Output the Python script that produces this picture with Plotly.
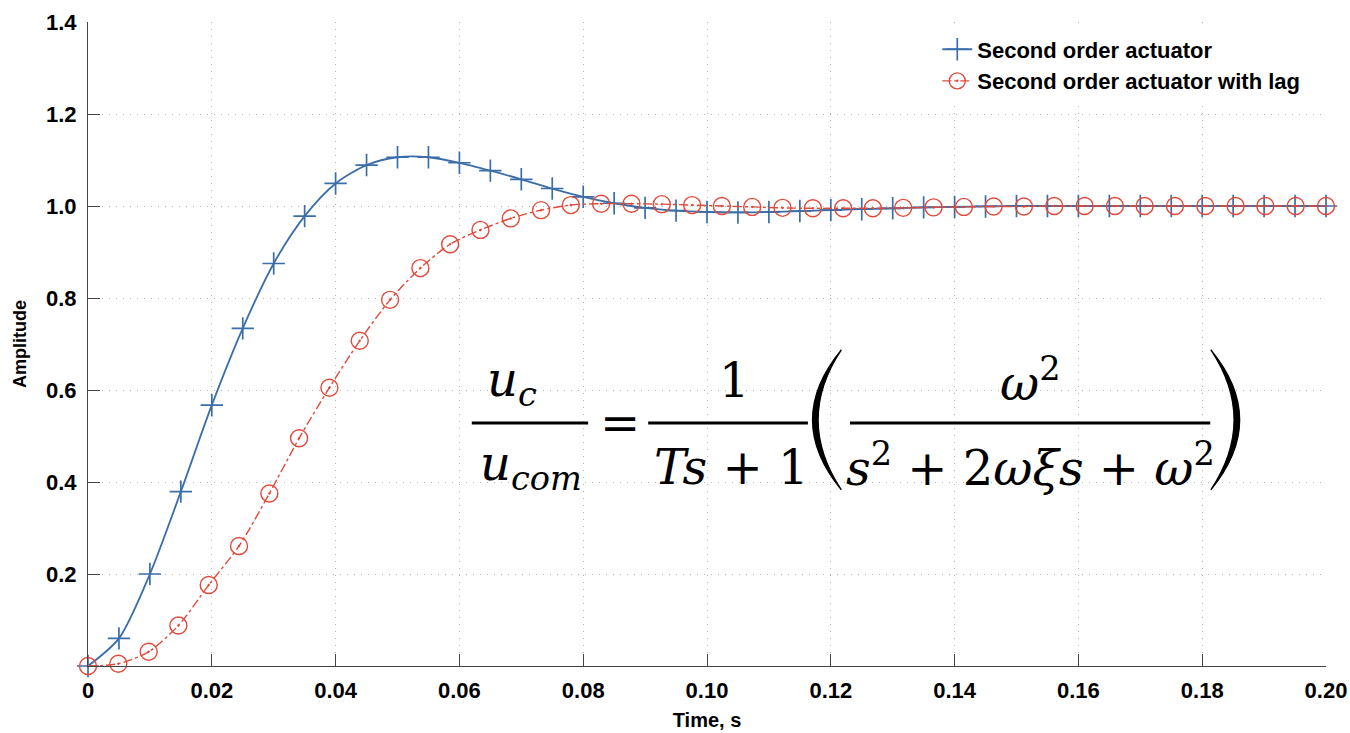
import plotly.graph_objects as go

# ---- data ----
t_blue = [0.000, 0.005, 0.010, 0.015, 0.020, 0.025, 0.030, 0.035, 0.040, 0.045,
          0.050, 0.055, 0.060, 0.065, 0.070, 0.075, 0.080, 0.085, 0.090, 0.095,
          0.100, 0.105, 0.110, 0.115, 0.120, 0.125, 0.130, 0.135, 0.140, 0.145,
          0.150, 0.155, 0.160, 0.165, 0.170, 0.175, 0.180, 0.185, 0.190, 0.195, 0.200]
y_blue = [0.000, 0.060, 0.200, 0.379, 0.567, 0.734, 0.875, 0.978, 1.049, 1.089,
          1.106, 1.106, 1.094, 1.077, 1.058, 1.038, 1.020, 1.006, 0.996, 0.990,
          0.987, 0.986, 0.987, 0.989, 0.991, 0.993, 0.995, 0.997, 0.998, 0.999,
          1.000, 1.000, 1.000, 1.000, 1.000, 1.000, 1.000, 1.000, 1.000, 1.000, 1.000]

t_red = [0.0000, 0.0049, 0.0098, 0.0146, 0.0195, 0.0244, 0.0293, 0.0341, 0.0390, 0.0439,
         0.0488, 0.0537, 0.0585, 0.0634, 0.0683, 0.0732, 0.0780, 0.0829, 0.0878, 0.0927,
         0.0976, 0.1024, 0.1073, 0.1122, 0.1171, 0.1220, 0.1268, 0.1317, 0.1366, 0.1415,
         0.1463, 0.1512, 0.1561, 0.1610, 0.1659, 0.1707, 0.1756, 0.1805, 0.1854, 0.1902,
         0.1951, 0.2000]
y_red = [0.000, 0.005, 0.031, 0.088, 0.176, 0.261, 0.375, 0.495, 0.605, 0.707,
         0.796, 0.865, 0.917, 0.948, 0.973, 0.991, 1.002, 1.005, 1.005, 1.004,
         1.002, 1.000, 0.998, 0.996, 0.995, 0.995, 0.995, 0.996, 0.997, 0.998,
         0.999, 0.999, 1.000, 1.000, 1.000, 1.000, 1.000, 1.000, 1.000, 1.000,
         1.000, 1.000]

x_ticks = [0, 0.02, 0.04, 0.06, 0.08, 0.10, 0.12, 0.14, 0.16, 0.18, 0.20]
x_tick_labels = ["0", "0.02", "0.04", "0.06", "0.08", "0.10", "0.12", "0.14", "0.16", "0.18", "0.20"]
y_ticks = [0.2, 0.4, 0.6, 0.8, 1.0, 1.2, 1.4]
y_tick_labels = ["0.2", "0.4", "0.6", "0.8", "1.0", "1.2", "1.4"]

names = ["Second order actuator", "Second order actuator with lag"]

BLUE = "#3b6ea8"
RED = "#e2493a"
FONT = "Liberation Sans"
MATH = "DejaVu Serif"

fig = go.Figure()
fig.add_trace(go.Scatter(
    x=t_blue, y=y_blue, name=names[0], mode="lines+markers", cliponaxis=False,
    line=dict(color=BLUE, width=1.8, shape="spline", smoothing=0.8),
    marker=dict(symbol="cross-thin", size=16, line=dict(color=BLUE, width=1.7)),
))
fig.add_trace(go.Scatter(
    x=t_red, y=y_red, name=names[1], mode="lines+markers", cliponaxis=False,
    line=dict(color=RED, width=1.4, dash="dashdot", shape="spline", smoothing=0.8),
    marker=dict(symbol="circle-open-dot", size=17, color=RED, line=dict(color=RED, width=1.4)),
))

# ---- equation (text annotations in data coordinates) ----
def ann(x, y, text, size=48):
    fig.add_annotation(x=x, y=y, xref="x", yref="y", text=text, showarrow=False,
                       font=dict(family=MATH, size=size, color="black"),
                       xanchor="center", yanchor="middle")

ann(0.0685, 0.617, "<i>u</i><sub><i>c</i></sub>")
ann(0.0715, 0.433, "<i>u</i><sub><i>com</i></sub>")
ann(0.0860, 0.528, "=")
ann(0.1045, 0.622, "1")
ann(0.1038, 0.433, "<i>Ts</i> + 1")
ann(0.1522, 0.622, "<i>ω</i><sup>2</sup>")
ann(0.1522, 0.438, "<i>s</i><sup>2</sup> + 2<i>ωξs</i> + <i>ω</i><sup>2</sup>")

# fraction bars
for x0, x1 in [(0.0620, 0.0808), (0.0905, 0.1163), (0.1231, 0.1813)]:
    fig.add_shape(type="line", xref="x", yref="y", x0=x0, x1=x1, y0=0.528, y1=0.528,
                  line=dict(color="black", width=3))

# large parentheses (tapered arcs)
def paren(x_end, x_out, x_in):
    top, mid, bot = 0.687, 0.535, 0.383
    p = (f"M {x_end},{top} Q {x_out},{mid} {x_end},{bot} "
         f"Q {x_in},{mid} {x_end},{top} Z")
    fig.add_shape(type="path", xref="x", yref="y", path=p,
                  fillcolor="black", line=dict(color="black", width=1.3))

paren(0.1217, 0.1124, 0.1142)
paren(0.1814, 0.1907, 0.1889)

axis_common = dict(
    showline=True, linecolor="#444444", linewidth=1.2,
    ticks="inside", ticklen=12, tickcolor="#444444", tickwidth=1.2,
    showgrid=True, gridcolor="#b5b5b5", griddash="1px,6px", gridwidth=1,
    zeroline=False, mirror=False, automargin=False,
    tickfont=dict(family=FONT, size=22, color="black", weight="bold"),
)

fig.update_xaxes(range=[0, 0.2], tickvals=x_ticks, ticktext=x_tick_labels,
                 ticklabelstandoff=4,
                 title=dict(text="Time, s", font=dict(family=FONT, size=20, color="black", weight="bold"),
                            standoff=11),
                 **axis_common)
fig.update_yaxes(range=[0, 1.4], tickvals=y_ticks, ticktext=y_tick_labels,
                 ticklabelstandoff=6,
                 title=dict(text="Amplitude", font=dict(family=FONT, size=18, color="black", weight="bold"),
                            standoff=14),
                 **axis_common)

fig.update_layout(
    width=1350, height=733,
    margin=dict(l=88, r=24, t=22, b=67),
    plot_bgcolor="white", paper_bgcolor="white",
    showlegend=True,
    legend=dict(x=0.686, y=0.99, xanchor="left", yanchor="top",
                bgcolor="rgba(255,255,255,0.9)", borderwidth=0,
                font=dict(family=FONT, size=22, color="black", weight="bold")),
)

fig.write_html("out.html")
